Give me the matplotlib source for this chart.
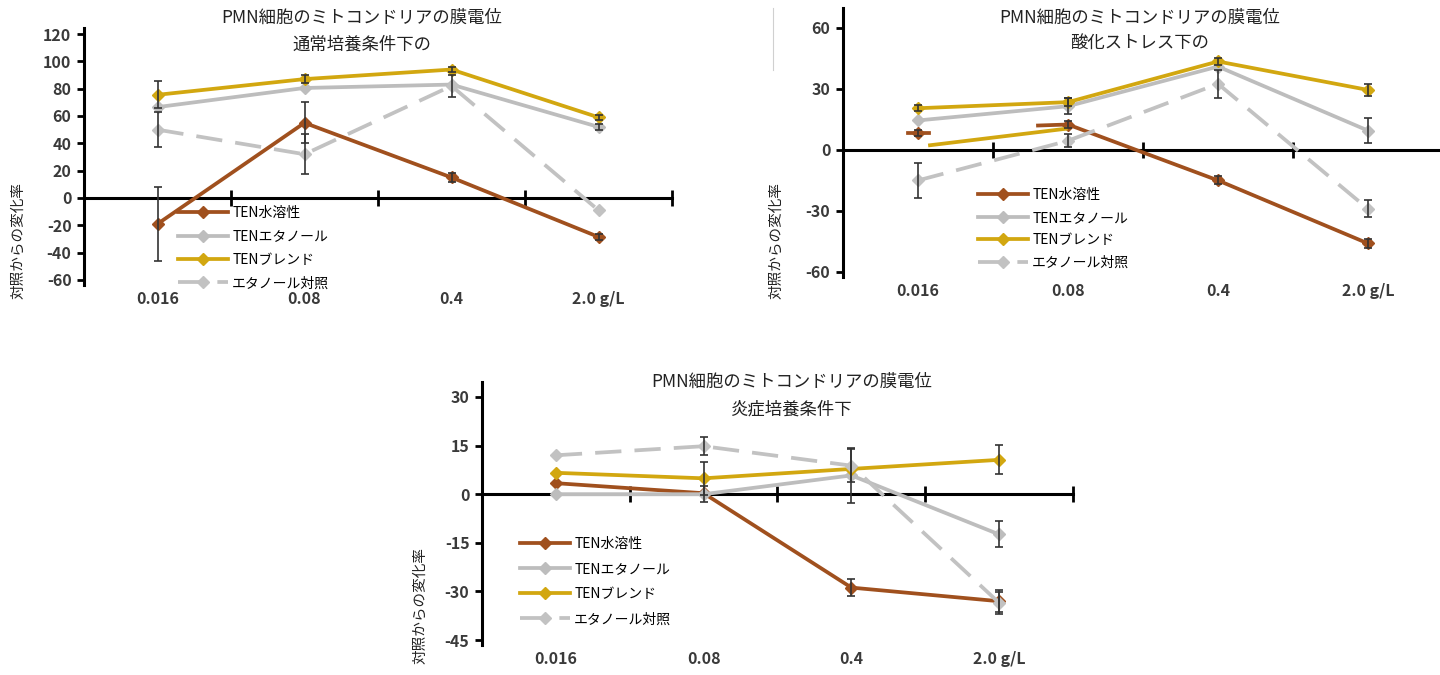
import numpy as np
import matplotlib
matplotlib.use("Agg")
import matplotlib.pyplot as plt  # noqa: E402
from matplotlib.lines import Line2D  # noqa: E402

plt.rcParams["font.family"] = ["Noto Sans CJK JP", "DejaVu Sans"]

W, H = 1440, 675

CATEGORIES = ["0.016", "0.08", "0.4", "2.0 g/L"]
SERIES = ["TEN水溶性", "TENエタノール", "TENブレンド", "エタノール対照"]
TITLE = "PMN細胞のミトコンドリアの膜電位"
SUBTITLES = ["通常培養条件下の", "酸化ストレス下の", "炎症培養条件下"]
YLABEL = "対照からの変化率"

# normal culture
NORMAL_WATER = [-19, 55, 15, -28.5]
NORMAL_ETHANOL = [66.5, 80.5, 83, 52]
NORMAL_BLEND = [75.5, 87, 94, 59]
NORMAL_CONTROL = [50, 32, 82, -9]
NORMAL_WATER_ERR = [27, 15, 3, 2]
NORMAL_ETHANOL_ERR = [0, 0, 0, 2]
NORMAL_BLEND_ERR = [10, 3, 2, 2]
NORMAL_CONTROL_ERR = [13, 14.5, 8, 0]

# oxidative stress
OX_WATER = [8.5, 12.5, -15, -46]
OX_ETHANOL = [14.5, 21.5, 41, 9.5]
OX_BLEND = [20.5, 23.5, 43.5, 29.5]
OX_CONTROL = [-15, 4.5, 32.5, -29]
OX_WATER_ERR = [1.5, 1.5, 2, 2]
OX_ETHANOL_ERR = [0, 4, 0, 6]
OX_BLEND_ERR = [1.5, 2, 1.5, 3]
OX_CONTROL_ERR = [8.8, 3.3, 7, 4.2]
# stray segments visible in the source image (category index, value)
OX_STRAY_GOLD_X = [0.08, 0.985]
OX_STRAY_GOLD_Y = [2.3, 10.4]
OX_STRAY_BROWN_X = [0.8, 1.0]
OX_STRAY_BROWN_Y = [12, 12.5]
OX_STUB_BROWN_X = [-0.07, 0.07]
OX_STUB_BROWN_Y = [8.5, 8.5]

# inflammatory culture
INF_WATER = [3.4, 0.3, -28.8, -33]
INF_ETHANOL = [0, 0, 5.8, -12.4]
INF_BLEND = [6.6, 4.9, 7.8, 10.6]
INF_CONTROL = [12, 14.8, 8.8, -33.5]
INF_WATER_ERR = [0, 0, 2.5, 3.4]
INF_ETHANOL_ERR = [0, 2.5, 8.5, 4]
INF_BLEND_ERR = [0, 5, 0, 4.5]
INF_CONTROL_ERR = [0, 2.8, 5, 3.4]

COLORS = ["#A0501E", "#BDBDBD", "#D2A710", "#C2C2C2"]
STYLES = ["-", "-", "-", (0, (7, 3.5))]
LW = 2.7
MS = 6.5


def rect(left, top, right, bottom):
    return [left / W, 1 - bottom / H, (right - left) / W, (bottom - top) / H]


def fig_xy(x, y):
    return x / W, 1 - y / H


def panel(fig, box, ylim, yticks, values, errors, subtitle, title_x, title_y,
          ylabel_xy, legend_xy, legend_gap, no_line_start=()):
    ax = fig.add_axes(rect(*box))
    ax.patch.set_visible(False)
    x = np.arange(len(CATEGORIES))
    for i, (vals, errs) in enumerate(zip(values, errors)):
        vals = np.asarray(vals, float)
        start = 1 if i in no_line_start else 0
        ax.plot(x[start:], vals[start:], color=COLORS[i], ls=STYLES[i], lw=LW,
                marker="D", ms=MS, zorder=3 + i * 0.1)
        if start:
            ax.plot(x[:1], vals[:1], color=COLORS[i], marker="D", ms=MS, ls="none", zorder=3)
        errs = np.asarray(errs, float)
        keep = errs > 0
        ax.errorbar(x[keep], vals[keep], yerr=errs[keep], fmt="none", ecolor="#333333",
                    elinewidth=1.2, capsize=3, capthick=1.2, zorder=5)

    ax.set_xlim(-0.5, 3.5)
    ax.set_ylim(*ylim)
    ax.set_yticks(yticks, [str(v) for v in yticks], fontweight="bold", fontsize=11.5,
                  color="#3a3a3a")
    ax.set_xticks(x, CATEGORIES, fontweight="bold", fontsize=11.5, color="#3a3a3a")
    ax.tick_params(axis="x", length=0, pad=4)
    ax.tick_params(axis="y", direction="out", length=5, width=2, pad=4)
    for s in ("top", "right", "bottom"):
        ax.spines[s].set_visible(False)
    ax.spines["left"].set_linewidth(2.2)

    # zero line with category boundary ticks
    zx = ax.twiny()
    zx.set_xlim(ax.get_xlim())
    zx.set_zorder(ax.get_zorder() - 1)
    for s in ("top", "left", "right"):
        zx.spines[s].set_visible(False)
    zx.spines["bottom"].set_position(("data", 0))
    zx.spines["bottom"].set_linewidth(2.2)
    zx.xaxis.set_ticks_position("bottom")
    zx.set_xticks(x + 0.5)
    zx.tick_params(axis="x", direction="inout", length=11, width=2,
                   labelbottom=False, labeltop=False)

    fig.text(*fig_xy(title_x, title_y[0]), TITLE, ha="center", va="center",
             fontsize=12.5, color="#222222")
    fig.text(*fig_xy(title_x, title_y[1]), subtitle, ha="center", va="center",
             fontsize=12.5, color="#222222")
    fig.text(*fig_xy(*ylabel_xy), YLABEL, rotation=90, ha="center", va="center",
             fontsize=10.5, color="#222222")

    handles = [Line2D([], [], color=COLORS[i], ls=STYLES[i], lw=LW, marker="D", ms=MS)
               for i in range(len(SERIES))]
    ax.legend(handles, SERIES, loc="upper left", bbox_to_anchor=fig_xy(*legend_xy),
              bbox_transform=fig.transFigure, frameon=False, fontsize=10,
              borderpad=0, borderaxespad=0, handlelength=3.6, handletextpad=0.3,
              labelspacing=legend_gap, numpoints=1)
    return ax


fig = plt.figure(figsize=(W / 100, H / 100), dpi=100)

panel(fig, (84, 28, 672, 285), (-63.7, 124.4), [-60, -40, -20, 0, 20, 40, 60, 80, 100, 120],
      [NORMAL_WATER, NORMAL_ETHANOL, NORMAL_BLEND, NORMAL_CONTROL],
      [NORMAL_WATER_ERR, NORMAL_ETHANOL_ERR, NORMAL_BLEND_ERR, NORMAL_CONTROL_ERR],
      SUBTITLES[0], 362, (18, 45), (18, 240), (178, 206), 0.68)

ax2 = panel(fig, (843, 8, 1443, 277), (-62.5, 69.8), [-60, -30, 0, 30, 60],
            [OX_WATER, OX_ETHANOL, OX_BLEND, OX_CONTROL],
            [OX_WATER_ERR, OX_ETHANOL_ERR, OX_BLEND_ERR, OX_CONTROL_ERR],
            SUBTITLES[1], 1140, (18, 44), (776, 240), (978, 188), 0.62,
            no_line_start=(0,))
ax2.plot(OX_STRAY_GOLD_X, OX_STRAY_GOLD_Y, color=COLORS[2], lw=LW, zorder=3)
ax2.plot(OX_STRAY_BROWN_X, OX_STRAY_BROWN_Y, color=COLORS[0], lw=LW, zorder=3)
ax2.plot(OX_STUB_BROWN_X, OX_STUB_BROWN_Y, color=COLORS[0], lw=LW, zorder=3)

panel(fig, (482, 382, 1073, 645), (-46.5, 34.6), [-45, -30, -15, 0, 15, 30],
      [INF_WATER, INF_ETHANOL, INF_BLEND, INF_CONTROL],
      [INF_WATER_ERR, INF_ETHANOL_ERR, INF_BLEND_ERR, INF_CONTROL_ERR],
      SUBTITLES[2], 792, (382, 410), (420, 605), (520, 537), 0.8)

# thin crop border left over in the source image
fig.add_artist(Line2D([773 / W, 773 / W], [1 - 8 / H, 1 - 70 / H], color="#d0d0d0", lw=0.8))

fig.savefig("out.png", dpi=100, facecolor="white")
